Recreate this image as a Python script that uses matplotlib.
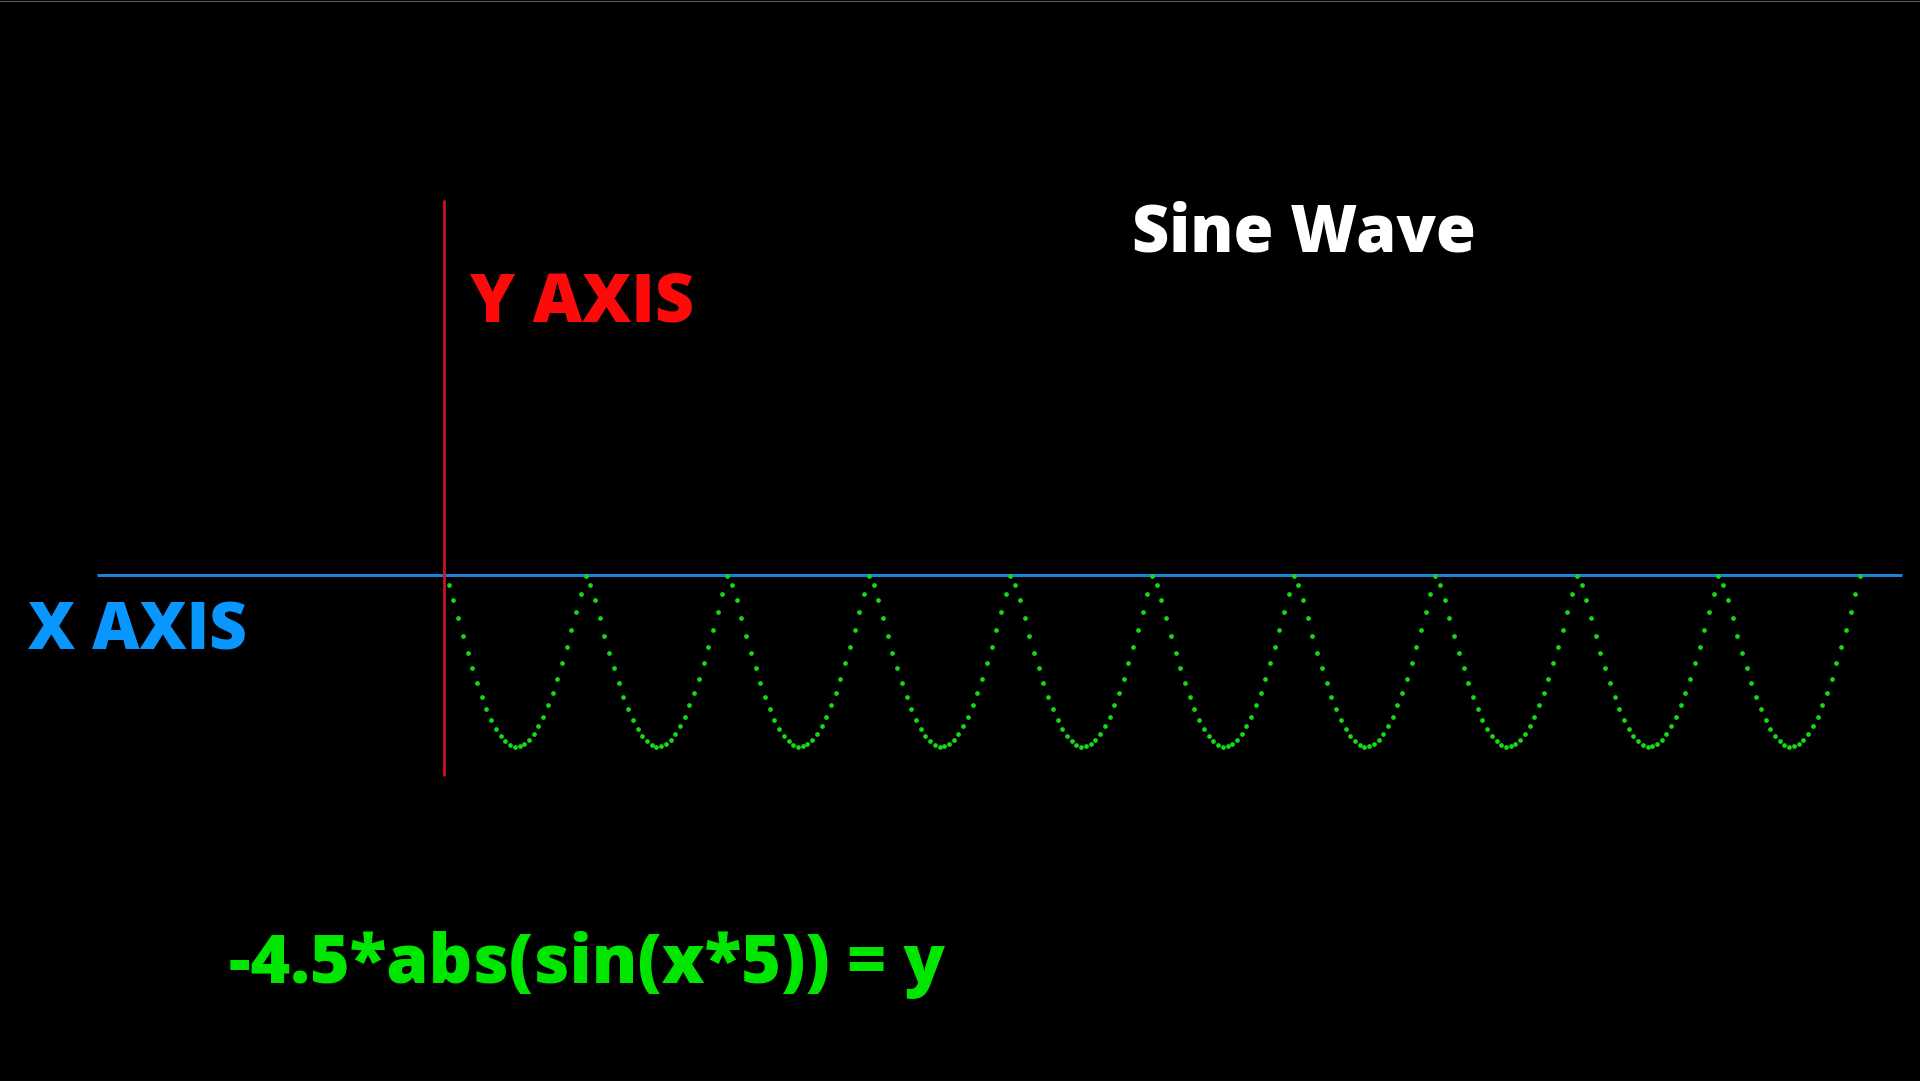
import numpy as np
import matplotlib
matplotlib.use("Agg")
import matplotlib.pyplot as plt
from matplotlib.lines import Line2D

# 一个拱形内每个点的深度（从图上读取，单位与 y 轴相同）
arch_depth = [0.26, 0.66, 1.13, 1.60, 2.03, 2.44, 2.84, 3.19, 3.51, 3.79,
              4.02, 4.21, 4.35, 4.44, 4.49, 4.48, 4.42, 4.32, 4.15, 3.95,
              3.71, 3.41, 3.08, 2.71, 2.31, 1.89, 1.44, 0.98, 0.50, 0.02]
n_arches = 10

title_text = "Sine Wave"
x_label = "X AXIS"
y_label = "Y AXIS"
formula_text = "-4.5*abs(sin(x*5)) = y"

W, H = 1920, 1081
X0_PX, Y0_PX = 444, 575          # 原点所在像素
PX_PER_SAMPLE, PX_PER_UNIT = 4.72, 38.2


def fig_xy(px, py):
    return px / W, 1 - py / H


def put_text(px, py, s, color, size):
    fig.text(*fig_xy(px, py), s, color=color, fontsize=size,
             family=["Open Sans", "DejaVu Sans"], weight=800, style="normal",
             ha="left", va="baseline")


y = -np.tile(arch_depth, n_arches)
x = np.arange(1, len(y) + 1)

fig = plt.figure(figsize=(W / 100, H / 100), dpi=100, facecolor="black")
ax = fig.add_axes([0, 0, 1, 1], facecolor="black")
ax.set_xlim(-X0_PX / PX_PER_SAMPLE, (W - X0_PX) / PX_PER_SAMPLE)
ax.set_ylim((Y0_PX - H) / PX_PER_UNIT, Y0_PX / PX_PER_UNIT)
ax.axis("off")

# 坐标轴线
ax.plot([(97 - X0_PX) / PX_PER_SAMPLE, (1902 - X0_PX) / PX_PER_SAMPLE], [0, 0],
        color="#1e82d6", lw=2.2, solid_capstyle="butt", zorder=2)
ax.plot([0, 0], [(Y0_PX - 200) / PX_PER_UNIT, (Y0_PX - 776) / PX_PER_UNIT],
        color="#c8141e", lw=2.0, solid_capstyle="butt", zorder=3)

# 曲线点
ax.plot(x, y, linestyle="none", marker="o", ms=3.4, mew=0,
        color="#14dc14", zorder=4)

# 文字
put_text(1132, 252, title_text, "white", 46.5)
put_text(470, 322, y_label, "#ff0a0a", 49)
put_text(28, 649, x_label, "#0a96ff", 47)
put_text(229, 983, formula_text, "#00e600", 49)

# 上下边框细线
fig.add_artist(Line2D([0, 1], [1 - 0.5 / H] * 2, transform=fig.transFigure,
                      color="#5a5a5a", lw=0.8))
fig.add_artist(Line2D([0, 1], [0.5 / H] * 2, transform=fig.transFigure,
                      color="#5a5a5a", lw=0.8))

fig.savefig("out.png", dpi=100, facecolor="black")
